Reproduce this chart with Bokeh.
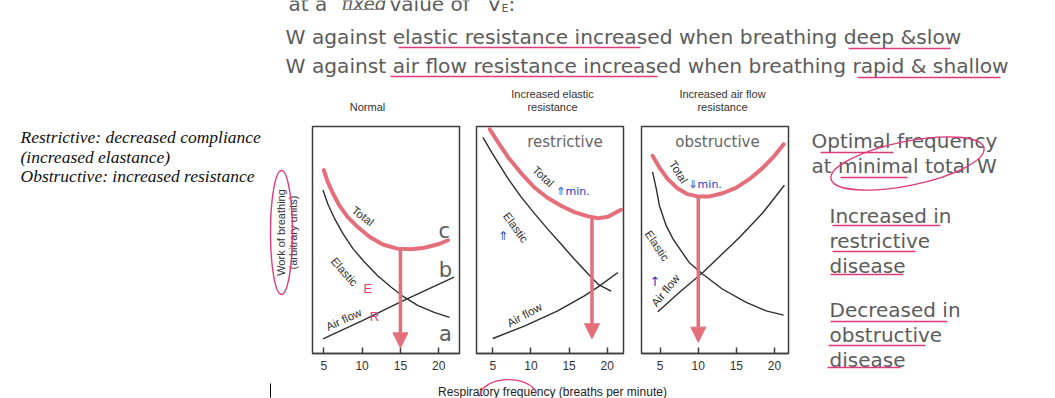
import math
from bokeh.plotting import figure
from bokeh.layouts import row, column
from bokeh.models import Range1d, Arrow, NormalHead, FixedTicker
from bokeh.core.properties import value
from bokeh.embed import file_html
from bokeh.resources import INLINE

# ---------------- data ----------------
freq_ticks = [5, 10, 15, 20]

# Normal lung
normal_total_f = [5.0, 5.5, 6.2, 7.0, 8.1, 9.4, 11.0, 12.7, 14.6, 16.4, 18.1, 19.9, 21.2]
normal_total_w = [80.8, 75.7, 70.5, 65.4, 60.2, 55.8, 51.3, 48.0, 46.2, 45.9, 46.6, 48.1, 49.9]
normal_elastic_f = [4.9, 5.5, 6.4, 7.5, 8.8, 10.3, 12.0, 13.8, 15.5, 17.3, 19.4, 21.4]
normal_elastic_w = [72.0, 66.1, 59.5, 52.8, 46.2, 40.3, 34.4, 29.2, 24.8, 21.1, 18.1, 15.9]
normal_airflow_f = [4.9, 9.9, 15.1, 22.0]
normal_airflow_w = [6.4, 14.3, 22.9, 33.6]

# Increased elastic resistance (restrictive)
restr_total_f = [4.6, 5.7, 7.0, 8.7, 10.5, 12.2, 14.0, 15.7, 17.5, 18.8, 20.1, 21.8]
restr_total_w = [98.8, 93.0, 86.5, 79.5, 73.0, 68.5, 65.0, 62.3, 60.4, 59.6, 60.2, 63.3]
restr_elastic_f = [3.7, 4.6, 5.7, 7.0, 8.7, 10.5, 12.2, 14.0, 15.7, 17.5, 18.8, 20.5]
restr_elastic_w = [95.2, 90.0, 84.0, 77.0, 69.0, 61.5, 54.8, 48.0, 41.5, 35.0, 30.5, 27.5]
restr_airflow_f = [5.0, 9.2, 13.5, 17.0, 19.0, 21.4]
restr_airflow_w = [6.6, 12.2, 18.8, 25.4, 29.8, 35.7]

# Increased air flow resistance (obstructive)
obst_total_f = [4.0, 4.9, 6.0, 7.3, 8.6, 9.9, 11.5, 13.2, 15.0, 16.7, 18.5, 20.0, 21.2]
obst_total_w = [87.1, 81.9, 76.8, 72.7, 70.2, 69.2, 69.2, 70.6, 73.1, 76.8, 81.9, 87.1, 92.2]
obst_elastic_f = [4.0, 4.5, 4.9, 5.8, 6.7, 8.8, 10.6, 13.2, 16.3, 18.9, 21.2]
obst_elastic_w = [80.0, 72.4, 65.1, 56.2, 50.4, 40.1, 34.9, 28.3, 22.5, 18.8, 16.9]
obst_airflow_f = [4.7, 7.5, 10.6, 15.4, 18.5, 21.3]
obst_airflow_w = [18.4, 26.9, 35.7, 51.1, 62.1, 74.1]

# optimal (minimum-work) breathing frequency of each case
optimal_freq = [15, 18, 10]

# ---------------- styles ----------------
RED = "#e46f7b"
PINK = "#df3a7c"
INK = "#333333"
GREY = "#5c5c5c"
BLUE = "#2540c8"
FRAME = "#3c3c3c"
SANS = "DejaVu Sans"
ARIAL = "Liberation Sans"


def text_fig(w, h, x0, x1, y0, y1, top=0, bottom=0):
    """Blank canvas whose data units are pixels (y grows downward)."""
    p = figure(width=w, height=h, x_range=Range1d(x0, x1), y_range=Range1d(y1, y0),
               output_backend="svg", toolbar_location=None, min_border_left=0,
               min_border_right=0, min_border_top=top, min_border_bottom=bottom,
               x_axis_location=None, y_axis_location=None)
    p.outline_line_color = None
    p.background_fill_color = "white"
    p.border_fill_color = "white"
    p.xgrid.visible = False
    p.ygrid.visible = False
    return p


def txt(p, x, y, s, size, color=GREY, font=SANS, style="normal", align="left",
        baseline="middle", angle=0.0):
    p.text(x=[x], y=[y], text=[s], text_font=value(font), text_font_size=f"{size}px",
           text_font_style=style, text_color=color, text_align=align,
           text_baseline=baseline, angle=angle)


def uline(p, x0, x1, y, color=PINK, width=1.6):
    p.segment(x0=[x0], y0=[y], x1=[x1], y1=[y], line_color=color, line_width=width)


# ---------------- header ----------------
header = text_fig(1055, 115, 0, 1055, 0, 115)
txt(header, 288, 3, "at a", 20)
txt(header, 341, 3, "fixed", 18, style="italic")
uline(header, 342, 380, 9, color="#8a8a8a", width=1)
txt(header, 389, 3, "value of", 20)
txt(header, 487, 3, "V\u0307", 20)
txt(header, 501, 8, "E", 11)
txt(header, 508, 3, ":", 20)
txt(header, 285, 36, "W against elastic resistance increased when breathing deep &slow", 20.2)
txt(header, 285, 65, "W against air flow resistance increased when breathing rapid & shallow",
    20.2)
uline(header, 398, 640, 47)
uline(header, 848, 950, 48)
uline(header, 390, 657, 76)
uline(header, 857, 1000, 77)

panel_titles = [["Normal"], ["Increased elastic", "resistance"],
                ["Increased air flow", "resistance"]]
title_cx = [367, 552, 722]
for lines, cx in zip(panel_titles, title_cx):
    y_first = 106 - 13 * (len(lines) - 1)
    for i, s in enumerate(lines):
        txt(header, cx, y_first + 13 * i, s, 11, color=INK, font=ARIAL, align="center")

# ---------------- left side notes (frame spans the panel frames 126..353) ----------------
left = text_fig(300, 261, 0, 300, 126, 353, top=11, bottom=23)
for i, s in enumerate(["Restrictive: decreased compliance", "(increased elastance)",
                       "Obstructive: increased resistance"]):
    txt(left, 20, 136.5 + 19.5 * i, s, 17.5, color="#111111", font="Liberation Serif",
        style="italic")
txt(left, 280, 232, "Work of breathing", 11, color=INK, font=ARIAL, align="center",
    angle=math.pi / 2)
txt(left, 292, 232, "(arbitrary units)", 11, color=INK, font=ARIAL, align="center",
    angle=math.pi / 2)
left.ellipse(x=[281], y=[232], width=22, height=124, fill_color=None,
             line_color=PINK, line_width=1.4)


# ---------------- panels ----------------
def panel(xr, bl, br, total, elastic, airflow, opt, tip, labels):
    p = figure(frame_width=147, frame_height=227, x_range=Range1d(*xr),
               y_range=Range1d(0, 100), output_backend="svg", toolbar_location=None,
               y_axis_location=None, min_border_left=bl, min_border_right=br,
               min_border_top=11, min_border_bottom=23)
    p.grid.visible = False
    p.outline_line_color = FRAME
    p.outline_line_width = 1.5
    p.background_fill_color = "white"
    p.border_fill_color = "white"
    ax = p.xaxis[0]
    ax.ticker = FixedTicker(ticks=freq_ticks)
    ax.major_tick_in = 6
    ax.major_tick_out = 0
    ax.minor_tick_line_color = None
    ax.axis_line_color = FRAME
    ax.axis_line_width = 1.5
    ax.major_tick_line_color = FRAME
    ax.major_tick_line_width = 1.5
    ax.major_label_text_font = ARIAL
    ax.major_label_text_font_size = "12px"
    ax.major_label_text_color = INK
    ax.major_label_standoff = 7

    p.line(elastic[0], elastic[1], line_color="#2e2e2e", line_width=1.4)
    p.line(airflow[0], airflow[1], line_color="#2e2e2e", line_width=1.4)
    p.line(total[0], total[1], line_color=RED, line_width=4, line_cap="round")

    w_min = min(total[1])
    p.add_layout(Arrow(end=NormalHead(size=15, fill_color=RED, line_color=RED),
                       x_start=opt, y_start=w_min, x_end=opt, y_end=tip,
                       line_color=RED, line_width=3.5))

    for (x, y, s, size, color, ang, font) in labels:
        txt(p, x, y, s, size, color=color, font=font, align="center", angle=ang)
    return p


p1 = panel((3.53, 22.70), 12, 9,
           (normal_total_f, normal_total_w), (normal_elastic_f, normal_elastic_w),
           (normal_airflow_f, normal_airflow_w), optimal_freq[0], 2.5,
           [(10.1, 60.5, "Total", 11.5, INK, -0.65, ARIAL),
            (7.7, 36.0, "Elastic", 11.5, INK, -0.85, ARIAL),
            (7.6, 15.0, "Air flow", 11.5, INK, 0.43, ARIAL),
            (10.75, 28.5, "E", 13, PINK, 0.0, ARIAL),
            (11.6, 16.4, "R", 13, PINK, 0.0, ARIAL),
            (20.7, 53.8, "c", 21, GREY, 0.0, SANS),
            (20.85, 37.0, "b", 21, GREY, 0.0, SANS),
            (20.85, 8.4, "a", 21, GREY, 0.0, SANS)])

p2 = panel((2.86, 22.13), 8, 10,
           (restr_total_f, restr_total_w), (restr_elastic_f, restr_elastic_w),
           (restr_airflow_f, restr_airflow_w), optimal_freq[1], 6.5,
           [(14.46, 93, "restrictive", 15, "#666666", 0.0, SANS),
            (11.6, 78.0, "Total", 11.5, INK, -0.75, ARIAL),
            (8.0, 55.5, "Elastic", 11.5, INK, -0.95, ARIAL),
            (9.15, 17.0, "Air flow", 11.5, INK, 0.5, ARIAL),
            (15.5, 71.5, "\u21d1min.", 11, BLUE, 0.0, SANS),
            (6.35, 51.8, "\u21d1", 12, BLUE, 0.0, SANS)])

p3 = panel((2.55, 21.84), 8, 12,
           (obst_total_f, obst_total_w), (obst_elastic_f, obst_elastic_w),
           (obst_airflow_f, obst_airflow_w), optimal_freq[2], 5.0,
           [(12.52, 93, "obstructive", 15, "#666666", 0.0, SANS),
            (7.4, 80.0, "Total", 11.5, INK, -1.0, ARIAL),
            (4.6, 47.5, "Elastic", 11.5, INK, -0.98, ARIAL),
            (5.7, 27.8, "Air flow", 11.5, INK, 0.89, ARIAL),
            (10.9, 74.5, "\u21d3min.", 11, BLUE, 0.0, SANS),
            (4.3, 31.5, "\u2191", 13, BLUE, 0.0, SANS)])

# ---------------- footer below the panels ----------------
footer = text_fig(800, 22, 0, 800, 376, 398)
txt(footer, 552, 391, "Respiratory frequency (breaths per minute)", 12, color="#222222",
    font=ARIAL, align="center")
footer.bezier(x0=[479], y0=[396], x1=[536], y1=[393], cx0=[482], cy0=[374],
              cx1=[530], cy1=[374], line_color=PINK, line_width=1.4)
footer.segment(x0=[270], y0=[383], x1=[270], y1=[397], line_color="black", line_width=1)

# ---------------- right side notes ----------------
right = text_fig(255, 283, 800, 1055, 115, 398)
notes = [("Optimal frequency", 811, 140.5), ("at minimal total W", 811, 165.5),
         ("Increased in", 829, 215.5), ("restrictive", 829, 240.5), ("disease", 829, 265.5),
         ("Decreased in", 829, 309.5), ("obstructive", 829, 334.5), ("disease", 829, 359.5)]
for s, x, y in notes:
    txt(right, x, y, s, 20, color=GREY)
uline(right, 820, 893, 152)
uline(right, 840, 907, 177)
uline(right, 832, 940, 225)
uline(right, 832, 915, 251)
uline(right, 830, 903, 274)
uline(right, 830, 947, 321)
uline(right, 828, 925, 345)
uline(right, 827, 900, 367)
right.ellipse(x=[907], y=[163], width=156, height=44, angle=0.2, fill_color=None,
              line_color=PINK, line_width=1.4)

layout = column(header, row(column(row(left, p1, p2, p3), footer), right))

with open("out.html", "w") as f:
    f.write(file_html(layout, INLINE))
